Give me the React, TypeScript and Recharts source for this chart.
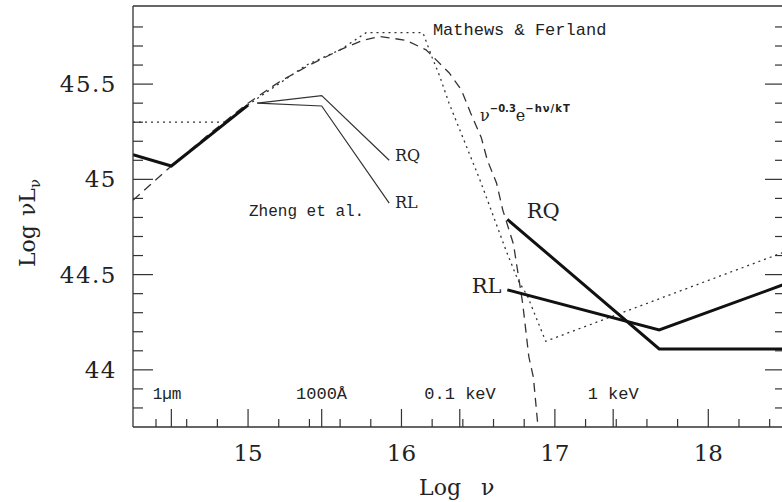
import React from 'react';
import { LineChart, Line, XAxis, YAxis, ReferenceDot } from 'recharts';

// [log nu, log nuLnu] pairs
const thickLeft = [[14.25, 45.13], [14.5, 45.07], [15.0, 45.39]];
const thickRQ = [[16.69, 44.79], [17.68, 44.11], [18.5, 44.11]];
const thickRL = [[16.69, 44.42], [17.68, 44.21], [18.5, 44.45]];
const zhengRQ = [[15.06, 45.4], [15.48, 45.44], [15.92, 45.1]];
const zhengRL = [[15.06, 45.4], [15.48, 45.385], [15.92, 44.875]];
const mathewsFerland = [
  [14.25, 45.3], [14.85, 45.3], [15.0, 45.39], [15.07, 45.43], [15.38, 45.6],
  [15.6, 45.68], [15.77, 45.77], [16.14, 45.77], [16.2, 45.64], [16.25, 45.54],
  [16.31, 45.4], [16.38, 45.26], [16.44, 45.14], [16.51, 45.0], [16.57, 44.87],
  [16.68, 44.63], [16.76, 44.47], [16.82, 44.39], [16.88, 44.27], [16.94, 44.15],
  [18.5, 44.62],
];
const cutoffPowerLaw = [
  [14.25, 44.89], [14.5, 45.07], [14.75, 45.24], [15.0, 45.4], [15.2, 45.51],
  [15.4, 45.6], [15.6, 45.68], [15.75, 45.73], [15.86, 45.75], [16.03, 45.73],
  [16.16, 45.68], [16.31, 45.56], [16.39, 45.47], [16.45, 45.35], [16.52, 45.22],
  [16.56, 45.1], [16.62, 44.98], [16.66, 44.84], [16.73, 44.66], [16.79, 44.35],
  [16.83, 44.07], [16.86, 43.96], [16.89, 43.7],
];

const xTicks = [14.4, 14.6, 14.8, 15, 15.2, 15.4, 15.6, 15.8, 16, 16.2, 16.4, 16.6, 16.8, 17, 17.2, 17.4, 17.6, 17.8, 18, 18.2, 18.4];
const bandTicks = [14.5, 15.48, 16.38, 17.38]; // 1um, 1000A, 0.1 keV, 1 keV
const yTicks = [43.8, 43.9, 44, 44.1, 44.2, 44.3, 44.4, 44.5, 44.6, 44.7, 44.8, 44.9, 45, 45.1, 45.2, 45.3, 45.4, 45.5, 45.6, 45.7, 45.8];

const pts = (a: number[][]) => a.map(([x, y]) => ({ x, y }));

const serif = 'DejaVu Serif';
const mono = 'Liberation Mono';
const ink = '#222';
const axisStroke = { stroke: '#333', strokeWidth: 1.3 };

const isInt = (v: number) => Math.abs(v - Math.round(v)) < 1e-9;
const isHalf = (v: number) => Math.abs(v * 2 - Math.round(v * 2)) < 1e-9;

const BottomTick = (p: any) => {
  const v = p.payload.value;
  const len = isInt(v) || bandTicks.includes(v) ? 18 : 8;
  return (
    <g>
      <line x1={p.x} x2={p.x} y1={p.y} y2={p.y - len} stroke="#333" strokeWidth={1.2} />
      {isInt(v) && (
        <text x={p.x} y={p.y + 34} textAnchor="middle" fontFamily={serif} fontSize={23} fill={ink}>
          {v}
        </text>
      )}
    </g>
  );
};

const TopTick = (p: any) => {
  const v = p.payload.value;
  const len = isInt(v) ? 18 : 8;
  return <line x1={p.x} x2={p.x} y1={p.y} y2={p.y + len} stroke="#333" strokeWidth={1.2} />;
};

const LeftTick = (p: any) => {
  const v = p.payload.value;
  const len = isHalf(v) ? 20 : 10;
  return (
    <g>
      <line x1={p.x} x2={p.x + len} y1={p.y} y2={p.y} stroke="#333" strokeWidth={1.2} />
      {isHalf(v) && (
        <text x={p.x - 16} y={p.y + 8} textAnchor="end" fontFamily={serif} fontSize={23} letterSpacing={1.5} fill={ink}>
          {v}
        </text>
      )}
    </g>
  );
};

const RightTick = (p: any) => {
  const v = p.payload.value;
  const len = isHalf(v) ? 20 : 10;
  return <line x1={p.x} x2={p.x - len} y1={p.y} y2={p.y} stroke="#333" strokeWidth={1.2} />;
};

const XTitle = (p: any) => {
  const cx = p.viewBox.x + p.viewBox.width / 2;
  const y = p.viewBox.y + 68;
  return (
    <g fontFamily={serif} fontSize={22} fill={ink}>
      <text x={cx + 2} y={y} textAnchor="end">Log</text>
      <text x={cx + 22} y={y}>ν</text>
    </g>
  );
};

const YTitle = (p: any) => {
  const x = p.viewBox.x + 35;
  const y = p.viewBox.y + 261;
  return (
    <text x={x} y={y} transform={`rotate(-90 ${x} ${y})`} fontFamily={serif} fontSize={22} fill={ink}>
      Log<tspan dx={9}>ν</tspan>L<tspan dy={5} fontSize={15}>ν</tspan>
    </text>
  );
};

const note = (text: string, family: string, size: number) => (p: any) => (
  <text x={p.viewBox.x} y={p.viewBox.y} fontFamily={family} fontSize={size} fill={ink}>
    {text}
  </text>
);

const expLabel = (p: any) => (
  <text x={p.viewBox.x} y={p.viewBox.y} fontFamily={serif} fontSize={16} fill={ink}>
    ν
    <tspan dy={-9} fontFamily="DejaVu Sans" fontWeight="bold" fontSize={10}>−0.3</tspan>
    <tspan dy={9} fontSize={16}>e</tspan>
    <tspan dy={-9} fontFamily="DejaVu Sans" fontWeight="bold" fontSize={10} letterSpacing={1}>−hν/kT</tspan>
  </text>
);

const App = () => (
  <div style={{ position: 'absolute', left: 0, top: 0, width: 782, height: 502, overflow: 'hidden', background: '#fff' }}>
    <LineChart width={790} height={502} margin={{ top: 0, right: 0, bottom: 0, left: 0 }}>
      <XAxis
        type="number"
        dataKey="x"
        domain={[14.25, 18.5]}
        allowDataOverflow
        ticks={[...xTicks, ...bandTicks].sort((a, b) => a - b)}
        interval={0}
        tickSize={0}
        tickMargin={0}
        tickLine={false}
        tick={BottomTick}
        axisLine={axisStroke}
        height={75}
        label={{ content: XTitle }}
      />
      <XAxis
        xAxisId="top"
        orientation="top"
        type="number"
        domain={[14.25, 18.5]}
        allowDataOverflow
        ticks={xTicks}
        interval={0}
        tickSize={0}
        tickMargin={0}
        tickLine={false}
        tick={TopTick}
        axisLine={axisStroke}
        height={6}
      />
      <YAxis
        type="number"
        domain={[43.7, 45.91]}
        allowDataOverflow
        ticks={yTicks}
        interval={0}
        tickSize={0}
        tickMargin={0}
        tickLine={false}
        tick={LeftTick}
        axisLine={axisStroke}
        width={133}
        label={{ content: YTitle }}
      />
      <YAxis
        yAxisId="right"
        orientation="right"
        type="number"
        domain={[43.7, 45.91]}
        allowDataOverflow
        ticks={yTicks}
        interval={0}
        tickSize={0}
        tickMargin={0}
        tickLine={false}
        tick={RightTick}
        axisLine={axisStroke}
        width={5}
      />

      <Line data={pts(mathewsFerland)} dataKey="y" type="linear" dot={false} activeDot={false} stroke="#333" strokeWidth={1.3} strokeDasharray="2 4" isAnimationActive={false} />
      <Line data={pts(cutoffPowerLaw)} dataKey="y" type="linear" dot={false} activeDot={false} stroke="#333" strokeWidth={1.3} strokeDasharray="9 6" isAnimationActive={false} />
      <Line data={pts(zhengRQ)} dataKey="y" type="linear" dot={false} activeDot={false} stroke="#333" strokeWidth={1.2} isAnimationActive={false} />
      <Line data={pts(zhengRL)} dataKey="y" type="linear" dot={false} activeDot={false} stroke="#333" strokeWidth={1.2} isAnimationActive={false} />
      <Line data={pts(thickLeft)} dataKey="y" type="linear" dot={false} activeDot={false} stroke="#111" strokeWidth={3} isAnimationActive={false} />
      <Line data={pts(thickRQ)} dataKey="y" type="linear" dot={false} activeDot={false} stroke="#111" strokeWidth={3} isAnimationActive={false} />
      <Line data={pts(thickRL)} dataKey="y" type="linear" dot={false} activeDot={false} stroke="#111" strokeWidth={3} isAnimationActive={false} />

      <ReferenceDot x={16.205} y={45.76} r={0} fill="none" stroke="none" label={note('Mathews & Ferland', mono, 17)} />
      <ReferenceDot x={16.512} y={45.304} r={0} fill="none" stroke="none" label={expLabel} />
      <ReferenceDot x={15.006} y={44.808} r={0} fill="none" stroke="none" label={note('Zheng et al.', mono, 16)} />
      <ReferenceDot x={15.958} y={45.096} r={0} fill="none" stroke="none" label={note('RQ', serif, 16)} />
      <ReferenceDot x={15.958} y={44.85} r={0} fill="none" stroke="none" label={note('RL', serif, 16)} />
      <ReferenceDot x={16.816} y={44.797} r={0} fill="none" stroke="none" label={note('RQ', serif, 21)} />
      <ReferenceDot x={16.458} y={44.403} r={0} fill="none" stroke="none" label={note('RL', serif, 21)} />
      <ReferenceDot x={14.378} y={43.845} r={0} fill="none" stroke="none" label={note('1µm', mono, 16)} />
      <ReferenceDot x={15.313} y={43.845} r={0} fill="none" stroke="none" label={note('1000Å', mono, 17)} />
      <ReferenceDot x={16.149} y={43.845} r={0} fill="none" stroke="none" label={note('0.1 keV', mono, 17)} />
      <ReferenceDot x={17.214} y={43.845} r={0} fill="none" stroke="none" label={note('1 keV', mono, 17)} />
    </LineChart>
  </div>
);

export default App;
